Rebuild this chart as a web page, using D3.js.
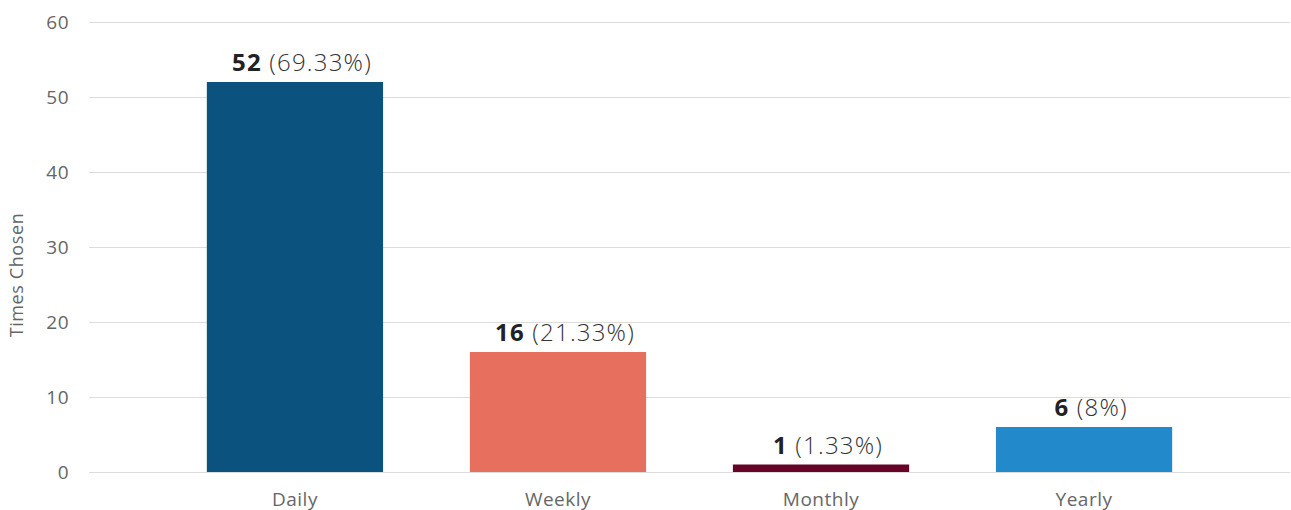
<!DOCTYPE html>
<html>
<head>
<meta charset="utf-8">
<script src="https://cdn.jsdelivr.net/npm/d3@7"></script>
<style>
  html, body { margin: 0; padding: 0; background: #fff; }
  svg { display: block; font-family: "Open Sans", "Noto Sans", sans-serif; }
</style>
</head>
<body>
<svg id="chart" width="1291" height="510"></svg>
<script>
// Frequency choices and how many times each was picked
const categories = ["Daily", "Weekly", "Monthly", "Yearly"];
const counts = [52, 16, 1, 6];
const percentLabels = ["69.33%", "21.33%", "1.33%", "8%"];
const barColors = ["#0b537e", "#e76f5d", "#650426", "#228acb"];
const yTicks = [0, 10, 20, 30, 40, 50, 60];
const yTitle = "Times Chosen";

(function draw() {
  const svg = d3.select("#chart");
  const plotLeft = 89, plotRight = 1290, plotTop = 22, plotBottom = 472;

  const x = d3.scaleBand()
    .domain(categories)
    .range([plotLeft, plotRight])
    .paddingInner(0.33)
    .paddingOuter(0.448);

  const y = d3.scaleLinear().domain([0, 60]).range([plotBottom, plotTop]);

  // horizontal gridlines
  svg.append("g")
    .selectAll("line")
    .data(yTicks)
    .join("line")
    .attr("x1", plotLeft).attr("x2", plotRight)
    .attr("y1", d => y(d) + 0.5).attr("y2", d => y(d) + 0.5)
    .attr("stroke", "#dcdcdc")
    .attr("stroke-width", 1);

  // y axis labels
  const yAxis = d3.axisLeft(y).tickValues(yTicks).tickSize(0).tickPadding(0);
  const yg = svg.append("g").attr("transform", `translate(${plotLeft - 20},0)`).call(yAxis);
  yg.select(".domain").remove();
  yg.selectAll("text")
    .attr("font-size", 19)
    .attr("letter-spacing", 0.5)
    .attr("fill", "#666")
    .attr("font-family", "Open Sans, sans-serif");

  // y axis title
  svg.append("text")
    .attr("transform", "translate(23,275) rotate(-90)")
    .attr("text-anchor", "middle")
    .attr("font-size", 18)
    .attr("letter-spacing", 0.6)
    .attr("fill", "#666")
    .text(yTitle);

  // x axis labels
  const xAxis = d3.axisBottom(x).tickSize(0).tickPadding(0);
  const xg = svg.append("g").attr("transform", `translate(0,${plotBottom + 20})`).call(xAxis);
  xg.select(".domain").remove();
  xg.selectAll("text")
    .attr("font-size", 19)
    .attr("letter-spacing", 0.5)
    .attr("fill", "#666")
    .attr("font-family", "Open Sans, sans-serif");

  // bars
  svg.append("g")
    .selectAll("rect")
    .data(categories)
    .join("rect")
    .attr("x", d => x(d))
    .attr("width", x.bandwidth())
    .attr("y", (d, i) => y(counts[i]))
    .attr("height", (d, i) => y(0) - y(counts[i]))
    .attr("fill", (d, i) => barColors[i]);

  // value labels above the bars
  const labels = svg.append("g")
    .selectAll("text")
    .data(categories)
    .join("text")
    .attr("x", d => x(d) + x.bandwidth() / 2 + 7)
    .attr("y", (d, i) => y(counts[i]) - 11)
    .attr("text-anchor", "middle")
    .attr("font-size", 24)
    .attr("letter-spacing", 1.2)
    .attr("fill", "#222");

  labels.append("tspan")
    .attr("font-weight", 700)
    .text((d, i) => counts[i]);
  labels.append("tspan")
    .attr("font-weight", 300)
    .attr("fill", "#333")
    .text((d, i) => " (" + percentLabels[i] + ")");
})();
</script>
</body>
</html>
